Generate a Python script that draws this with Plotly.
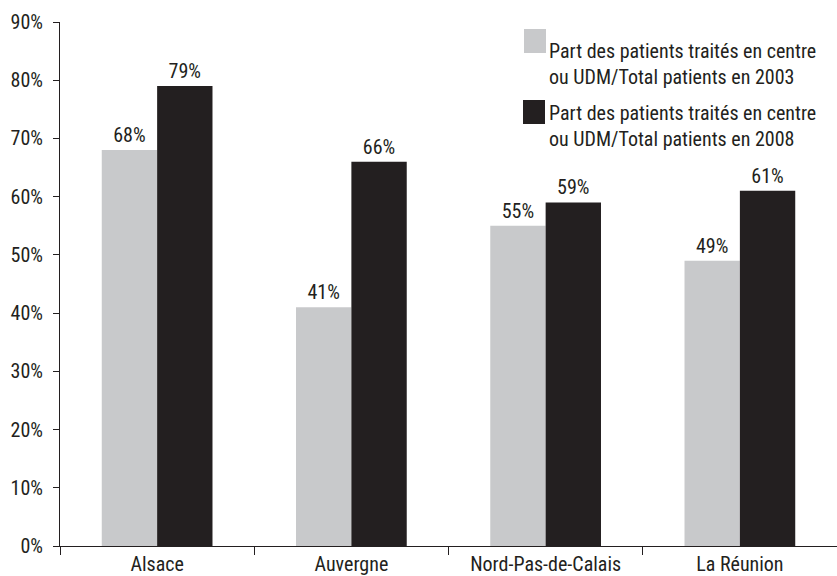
import plotly.graph_objects as go

# Regions and shares of patients treated in centre or UDM
regions = ["Alsace", "Auvergne", "Nord-Pas-de-Calais", "La Réunion"]
share_2003 = [68, 41, 55, 49]
share_2008 = [79, 66, 59, 61]
series_names = [
    "Part des patients traités en centre<br>ou UDM/Total patients en 2003",
    "Part des patients traités en centre<br>ou UDM/Total patients en 2008",
]
y_ticks = [0, 10, 20, 30, 40, 50, 60, 70, 80, 90]

GREY = "#c8c9cb"
DARK = "#231f20"
FONT = "Liberation Sans Narrow, Arial Narrow, Roboto Condensed, sans-serif"
FS = 20

W, H = 837, 576
ML, MR, MT, MB = 60, 0, 22, 30

fig = go.Figure()
for vals, name, col in [(share_2003, series_names[0], GREY), (share_2008, series_names[1], DARK)]:
    fig.add_trace(go.Bar(
        x=regions, y=vals, name=name, marker=dict(color=col, line=dict(width=0)),
        text=[f"{v}%" for v in vals], textposition="outside",
        textfont=dict(family=FONT, size=FS, color=DARK), cliponaxis=False,
    ))

# Legend drawn as swatches + text in pixel-based paper coordinates
def px(x):
    return (x - ML) / (W - ML - MR)

def py(y):
    return 1 - (y - MT) / (H - MT - MB)

legend_items = [
    ((524, 546, 29, 53), 37, series_names[0], GREY),
    ((523, 545, 100, 124), 99, series_names[1], DARK),
]
for (x0, x1, y0, y1), text_top, name, col in legend_items:
    fig.add_shape(type="rect", xref="paper", yref="paper",
                  x0=px(x0), x1=px(x1), y0=py(y1), y1=py(y0),
                  fillcolor=col, line=dict(width=0))
    fig.add_annotation(xref="paper", yref="paper", x=px(547), y=py(text_top),
                       xanchor="left", yanchor="top", text=name, showarrow=False,
                       align="left", font=dict(family=FONT, size=FS, color=DARK))

fig.update_layout(
    width=W, height=H,
    margin=dict(l=ML, r=MR, t=MT, b=MB),
    paper_bgcolor="white", plot_bgcolor="white",
    barmode="group", bargap=0.43, bargroupgap=0,
    showlegend=False,
    font=dict(family=FONT, size=FS, color=DARK),
)
fig.update_yaxes(
    range=[0, 90], tickvals=y_ticks, ticktext=[f"{v}%" for v in y_ticks],
    showgrid=False, zeroline=False, showline=True, linecolor=DARK, linewidth=1,
    ticks="outside", ticklen=6, tickcolor=DARK, ticklabelstandoff=6,
)
fig.update_xaxes(
    showgrid=False, showline=True, linecolor=DARK, linewidth=1,
    ticks="outside", ticklen=8, tickcolor=DARK, tickson="boundaries",
)

fig.write_html("out.html")
